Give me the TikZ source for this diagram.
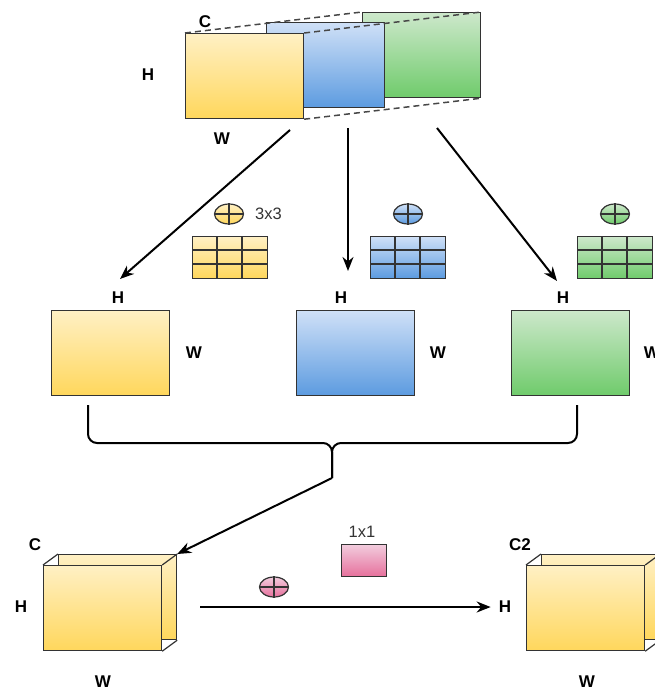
\documentclass[tikz,border=0pt]{standalone}
\usepackage{fontspec}
\setmainfont{Liberation Sans}
\usetikzlibrary{arrows.meta,shapes.geometric}
\definecolor{yt}{HTML}{FFF0C4}
\definecolor{yb}{HTML}{FFD75C}
\definecolor{bt}{HTML}{CFE0F7}
\definecolor{bb}{HTML}{5C9BE0}
\definecolor{gt}{HTML}{CDE8CB}
\definecolor{gb}{HTML}{6FCB6B}
\definecolor{pt}{HTML}{F2CCDD}
\definecolor{pb}{HTML}{E6709C}
\definecolor{edge}{HTML}{333333}
\tikzset{
  box/.style={draw=edge, line width=1.2pt, minimum width=118pt, minimum height=85pt, inner sep=0pt, anchor=north west},
  ybox/.style={box, top color=yt, bottom color=yb},
  bbox/.style={box, top color=bt, bottom color=bb},
  gbox/.style={box, top color=gt, bottom color=gb},
  lbl/.style={font=\bfseries\fontsize{17}{17}\selectfont, text=black, inner sep=0pt},
  thin/.style={font=\fontsize{16.5}{16.5}\selectfont, text=edge, inner sep=0pt},
  conn/.style={draw=black, line width=2pt, -{Stealth[length=14pt,width=11pt]}},
  dsh/.style={draw=edge!90, line width=1.5pt, dash pattern=on 6pt off 4pt},
  oplus/.style={ellipse, draw=edge, line width=1.2pt, minimum width=29pt, minimum height=20pt, inner sep=0pt},
  cube/.style={draw=edge, line width=1.2pt},
  gridln/.style={draw=edge, line width=1.2pt},
}
\begin{document}
\begin{tikzpicture}[x=1pt,y=-1pt]
\useasboundingbox (0,0) rectangle (654,690);
% ---------- top stack
\node[gbox] (gtop) at (362,12) {};
\node[bbox] (btop) at (266,22) {};
\node[ybox] (ytop) at (185,33) {};
\draw[dsh] (ytop.north west) -- (gtop.north west);
\draw[dsh] (ytop.north east) -- (gtop.north east);
\draw[dsh] (ytop.south east) -- (gtop.south east);
\node[lbl] (tc) at (205,22) {C};
\node[lbl] (th) at (148,75) {H};
\node[lbl] (tw) at (222,139) {W};
% ---------- branch arrows
\coordinate (s1) at (290,130);
\coordinate (s2) at (348,128);
\coordinate (s3) at (437,128);
% ---------- middle maps
\node[ybox] (ym) at (51,310) {};
\node[bbox] (bm) at (296,310) {};
\node[gbox] (gm) at (511,310) {};
\node[lbl] (hy) at (118,298) {H};
\node[lbl] (hb) at (341,298) {H};
\node[lbl] (hg) at (563,298) {H};
\node[lbl] (wy) at (194,353) {W};
\node[lbl] (wb) at (438,353) {W};
\node[lbl] (wg) at (652,353) {W};
\draw[conn] (s1) -- ([shift={(2,-13)}]hy.north);
\draw[conn] (s2) -- ([shift={(7,-21)}]hb.north);
\draw[conn] (s3) -- ([shift={(-6,-11)}]hg.north);
% ---------- depthwise kernels
\node[oplus, top color=yt, bottom color=yb] (oy) at (229,214) {};
\node[oplus, top color=bt, bottom color=bb] (ob) at (408,214) {};
\node[oplus, top color=gt, bottom color=gb] (og) at (615,214) {};
\foreach \o in {oy,ob,og}{
  \draw[gridln] (\o.north) -- (\o.south) (\o.west) -- (\o.east);
}
\node[thin, anchor=west] (k3) at (255,214) {3x3};
\foreach \nm/\xx/\ct/\cb in {gy/192/yt/yb, gb/370/bt/bb, gg/577/gt/gb}{
  \node[draw=edge, line width=1.2pt, top color=\ct, bottom color=\cb, minimum width=75pt, minimum height=42pt, inner sep=0pt, anchor=north west] (\nm) at (\xx,236) {};
  \draw[gridln] (\xx+25,236) -- (\xx+25,278) (\xx+50,236) -- (\xx+50,278)
     (\xx,250) -- (\xx+75,250) (\xx,264) -- (\xx+75,264);
}
% ---------- brace
\coordinate (bl) at (88,405);
\coordinate (br) at (577,405);
\coordinate (bc) at (332,443);
\coordinate (bs) at (332,478);
\draw[line width=2pt, rounded corners=9pt] (bl) -- (88,443) -- (bc) -- (bs);
\draw[line width=2pt, rounded corners=9pt] (br) -- (577,443) -- (bc) -- (bs);
% ---------- bottom-left box
\node[ybox] (lback) at (58,554) {};
\node[ybox] (lfront) at (43,565) {};
\draw[cube] (lfront.north west) -- (lback.north west)
            (lfront.north east) -- (lback.north east)
            (lfront.south east) -- (lback.south east);
\node[lbl] (lc) at (35,545) {C};
\node[lbl] (lh) at (21,607) {H};
\node[lbl] (lw) at (103,682) {W};
\draw[conn] (bs) -- (lback.north east);
% ---------- pointwise
\node[oplus, top color=pt, bottom color=pb] (op) at (274,587) {};
\draw[gridln] (op.north) -- (op.south) (op.west) -- (op.east);
\node[draw=edge, line width=1.2pt, top color=pt, bottom color=pb, minimum width=45pt, minimum height=32pt, inner sep=0pt, anchor=north west] (pk) at (341,544) {};
\node[thin] (k1) at (362,532) {1x1};
% ---------- bottom-right box
\node[ybox] (rback) at (541,554) {};
\node[ybox] (rfront) at (526,565) {};
\draw[cube] (rfront.north west) -- (rback.north west)
            (rfront.north east) -- (rback.north east)
            (rfront.south east) -- (rback.south east);
\node[lbl] (rc) at (520,545) {C2};
\node[lbl] (rh) at (505,607) {H};
\node[lbl] (rw) at (587,682) {W};
\coordinate (as) at (200,607);
\draw[conn] (as) -- ([xshift=-8pt]rh.west);
\end{tikzpicture}
\end{document}
